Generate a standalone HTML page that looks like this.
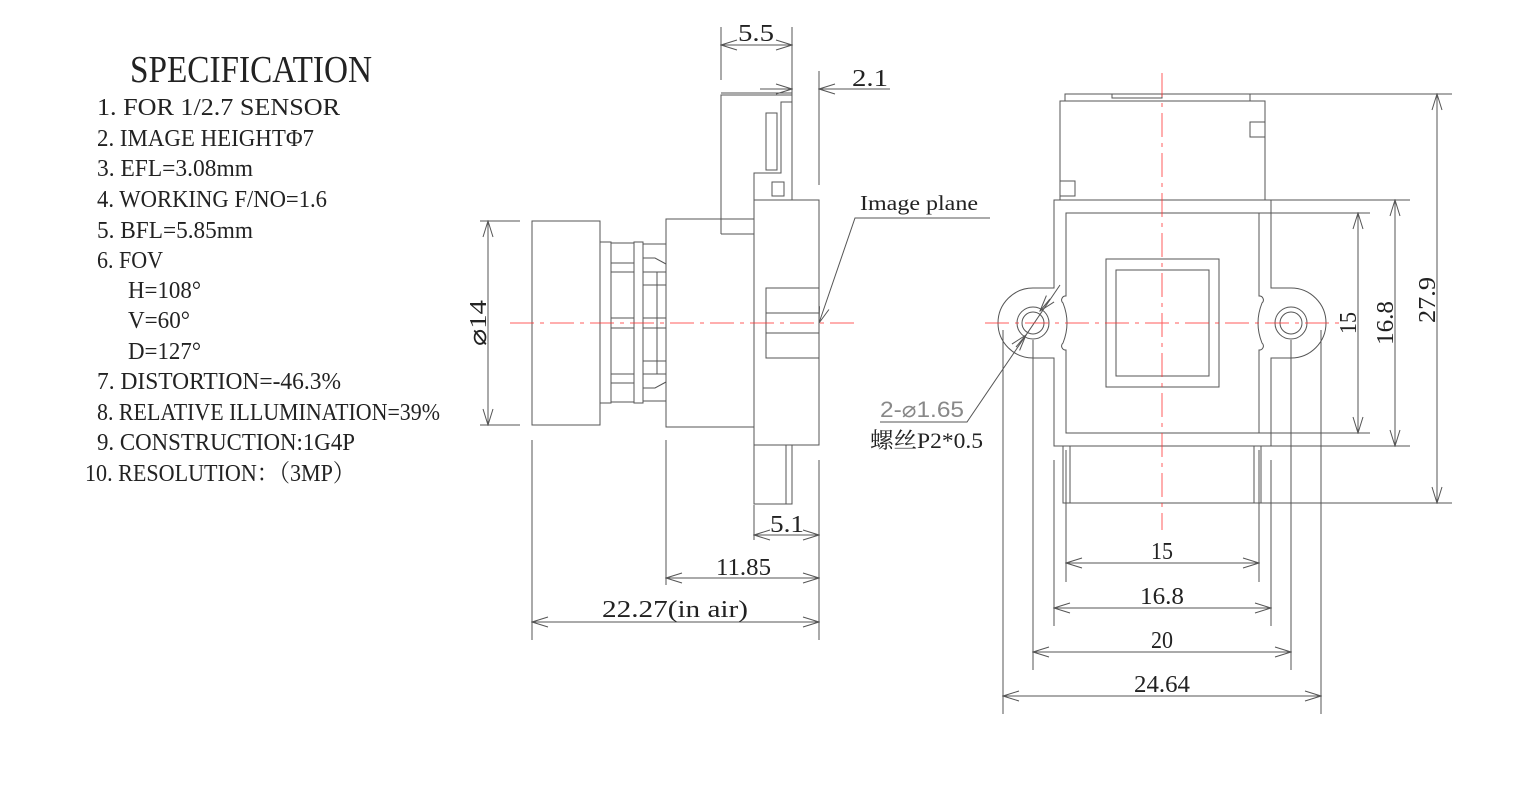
<!DOCTYPE html>
<html><head><meta charset="utf-8"><style>
html,body{margin:0;padding:0;background:#fff;width:1523px;height:803px;overflow:hidden}
svg{display:block}
text{font-family:"Liberation Serif","Noto Serif CJK SC",serif;fill:#222}
</style></head><body>
<svg width="1523" height="803" viewBox="0 0 1523 803" xmlns="http://www.w3.org/2000/svg">
<defs>
<marker id="a" markerWidth="18" markerHeight="12" refX="17" refY="6" orient="auto" markerUnits="userSpaceOnUse">
<path d="M1,1 L17,6 L1,11" fill="none" stroke="#555" stroke-width="1"/></marker>
<marker id="b" markerWidth="18" markerHeight="12" refX="1" refY="6" orient="auto" markerUnits="userSpaceOnUse">
<path d="M17,1 L1,6 L17,11" fill="none" stroke="#555" stroke-width="1"/></marker>
</defs>

<!-- spec text -->
<text x="130" y="82" font-size="38" textLength="242" lengthAdjust="spacingAndGlyphs">SPECIFICATION</text>
<g font-size="24">
<text x="97" y="115" textLength="243" lengthAdjust="spacingAndGlyphs">1. FOR 1/2.7  SENSOR</text>
<text x="97" y="146" textLength="217" lengthAdjust="spacingAndGlyphs">2. IMAGE HEIGHTΦ7</text>
<text x="97" y="176" textLength="156" lengthAdjust="spacingAndGlyphs">3. EFL=3.08mm</text>
<text x="97" y="207" textLength="230" lengthAdjust="spacingAndGlyphs">4. WORKING F/NO=1.6</text>
<text x="97" y="238" textLength="156" lengthAdjust="spacingAndGlyphs">5. BFL=5.85mm</text>
<text x="97" y="268" textLength="66" lengthAdjust="spacingAndGlyphs">6. FOV</text>
<text x="128" y="298" textLength="73" lengthAdjust="spacingAndGlyphs">H=108°</text>
<text x="128" y="328" textLength="62" lengthAdjust="spacingAndGlyphs">V=60°</text>
<text x="128" y="359" textLength="73" lengthAdjust="spacingAndGlyphs">D=127°</text>
<text x="97" y="389" textLength="244" lengthAdjust="spacingAndGlyphs">7. DISTORTION=-46.3%</text>
<text x="97" y="420" textLength="343" lengthAdjust="spacingAndGlyphs">8. RELATIVE ILLUMINATION=39%</text>
<text x="97" y="450" textLength="258" lengthAdjust="spacingAndGlyphs">9. CONSTRUCTION:1G4P</text>
<text x="85" y="481" textLength="270" lengthAdjust="spacingAndGlyphs">10. RESOLUTION：（3MP）</text>
</g>

<g fill="none" stroke="#555" stroke-width="1">
<!-- side view -->
<rect x="532" y="221" width="68" height="204"/>
<rect x="600" y="242" width="11" height="161"/>
<rect x="611" y="243" width="23" height="159"/>
<line x1="611" y1="263" x2="634" y2="263"/><line x1="611" y1="272" x2="634" y2="272"/>
<line x1="611" y1="374" x2="634" y2="374"/><line x1="611" y1="383" x2="634" y2="383"/>
<line x1="611" y1="318" x2="634" y2="318"/><line x1="611" y1="328" x2="634" y2="328"/>
<rect x="634" y="242" width="9" height="161"/>
<rect x="643" y="244" width="23" height="157"/>
<path d="M643,258 L655,258 L666,264 M643,272 L666,272 M643,285 L666,285 M643,318 L666,318 M643,328 L666,328 M643,361 L666,361 M643,374 L666,374 M643,388 L655,388 L666,382"/>
<line x1="657" y1="272" x2="657" y2="374"/>
<rect x="666" y="219" width="88" height="208"/>
<path d="M721,234 L721,95 L792,95 L792,200 M721,234 L754,234"/>
<path d="M754,200 L754,173 L781,173 L781,102 L792,102"/>
<rect x="766" y="113" width="11" height="57"/>
<rect x="772" y="182" width="12" height="14"/>
<rect x="754" y="200" width="65" height="245"/>
<rect x="766" y="288" width="53" height="70"/>
<line x1="766" y1="313" x2="819" y2="313"/><line x1="766" y1="333" x2="819" y2="333"/>
<rect x="754" y="445" width="38" height="59"/>
<line x1="786" y1="445" x2="786" y2="504"/>
<!-- side dims -->
<line x1="721" y1="27" x2="721" y2="80"/><line x1="792" y1="27" x2="792" y2="190"/>
<line x1="721" y1="45" x2="792" y2="45" marker-start="url(#b)" marker-end="url(#a)"/>
<line x1="760" y1="89" x2="792" y2="89" marker-end="url(#a)"/>
<line x1="890" y1="89" x2="819" y2="89" marker-end="url(#a)"/>
<line x1="819" y1="71" x2="819" y2="185"/>
<line x1="721" y1="93" x2="792" y2="93"/>
<line x1="480" y1="221" x2="520" y2="221"/><line x1="480" y1="425" x2="520" y2="425"/>
<line x1="488" y1="221" x2="488" y2="425" marker-start="url(#b)" marker-end="url(#a)"/>
<line x1="532" y1="440" x2="532" y2="640"/><line x1="666" y1="440" x2="666" y2="585"/>
<line x1="754" y1="505" x2="754" y2="540"/><line x1="819" y1="460" x2="819" y2="640"/>
<line x1="754" y1="535" x2="819" y2="535" marker-start="url(#b)" marker-end="url(#a)"/>
<line x1="666" y1="578" x2="819" y2="578" marker-start="url(#b)" marker-end="url(#a)"/>
<line x1="532" y1="622" x2="819" y2="622" marker-start="url(#b)" marker-end="url(#a)"/>
<path d="M990,218 L855,218 L819,323" marker-end="url(#a)"/>

<!-- front view -->
<rect x="1065" y="94" width="185" height="7"/>
<rect x="1112" y="94" width="50" height="4"/>
<rect x="1060" y="101" width="205" height="99"/>
<rect x="1250" y="122" width="15" height="15"/>
<rect x="1060" y="181" width="15" height="15"/>
<path d="M1054,200 L1271,200 L1271,288 L1291,288 A35,35 0 0 1 1291,358 L1271,358 L1271,446 L1054,446 L1054,358 L1033,358 A35,35 0 0 1 1033,288 L1054,288 Z"/>
<path d="M1066,213 L1259,213 L1259,296 A4,4 0 0 1 1262,303 Q1254,323 1262,343 A4,4 0 0 1 1259,350 L1259,433 L1066,433 L1066,350 A4,4 0 0 1 1063,343 Q1071,323 1063,303 A4,4 0 0 1 1066,296 Z"/>
<rect x="1106" y="259" width="113" height="128"/>
<rect x="1116" y="270" width="93" height="106"/>
<circle cx="1033" cy="323" r="16"/><circle cx="1033" cy="323" r="11"/>
<circle cx="1291" cy="323" r="16"/><circle cx="1291" cy="323" r="11"/>
<rect x="1063" y="446" width="198" height="57"/>
<line x1="1070" y1="446" x2="1070" y2="503"/><line x1="1254" y1="446" x2="1254" y2="503"/>
<!-- front dims -->
<line x1="1250" y1="94" x2="1452" y2="94"/><line x1="1261" y1="503" x2="1452" y2="503"/>
<line x1="1437" y1="94" x2="1437" y2="503" marker-start="url(#b)" marker-end="url(#a)"/>
<line x1="1271" y1="200" x2="1410" y2="200"/><line x1="1271" y1="446" x2="1410" y2="446"/>
<line x1="1395" y1="200" x2="1395" y2="446" marker-start="url(#b)" marker-end="url(#a)"/>
<line x1="1259" y1="213" x2="1370" y2="213"/><line x1="1259" y1="433" x2="1370" y2="433"/>
<line x1="1358" y1="213" x2="1358" y2="433" marker-start="url(#b)" marker-end="url(#a)"/>
<line x1="1066" y1="450" x2="1066" y2="582"/><line x1="1259" y1="450" x2="1259" y2="582"/>
<line x1="1054" y1="460" x2="1054" y2="626"/><line x1="1271" y1="460" x2="1271" y2="626"/>
<line x1="1033" y1="340" x2="1033" y2="670"/><line x1="1291" y1="340" x2="1291" y2="670"/>
<line x1="1003" y1="330" x2="1003" y2="714"/><line x1="1321" y1="330" x2="1321" y2="714"/>
<line x1="1066" y1="563" x2="1259" y2="563" marker-start="url(#b)" marker-end="url(#a)"/>
<line x1="1054" y1="608" x2="1271" y2="608" marker-start="url(#b)" marker-end="url(#a)"/>
<line x1="1033" y1="652" x2="1291" y2="652" marker-start="url(#b)" marker-end="url(#a)"/>
<line x1="1003" y1="696" x2="1321" y2="696" marker-start="url(#b)" marker-end="url(#a)"/>
<path d="M880,422 L967,422 L1060,285"/>
<line x1="1016" y1="347" x2="1026" y2="335" marker-end="url(#a)"/>
<line x1="1050" y1="299" x2="1040" y2="311" marker-end="url(#a)"/>
</g>

<!-- centre lines -->
<g stroke="#f33" stroke-width="1" stroke-dasharray="24,6,4,6" fill="none" opacity="0.8">
<line x1="510" y1="323" x2="856" y2="323"/>
<line x1="985" y1="323" x2="1340" y2="323"/>
<line x1="1162" y1="73" x2="1162" y2="530"/>
</g>

<g font-size="24">
<text x="738" y="41" textLength="36" lengthAdjust="spacingAndGlyphs">5.5</text>
<text x="852" y="86" textLength="36" lengthAdjust="spacingAndGlyphs">2.1</text>
<text x="860" y="210" font-size="21" textLength="118" lengthAdjust="spacingAndGlyphs">Image plane</text>
<text transform="translate(486,323) rotate(-90)" text-anchor="middle" textLength="46" lengthAdjust="spacingAndGlyphs">⌀14</text>
<text x="770" y="532" textLength="34" lengthAdjust="spacingAndGlyphs">5.1</text>
<text x="716" y="575" textLength="55" lengthAdjust="spacingAndGlyphs">11.85</text>
<text x="602" y="617" textLength="146" lengthAdjust="spacingAndGlyphs">22.27(in air)</text>
<text transform="translate(1435,300) rotate(-90)" text-anchor="middle" textLength="46" lengthAdjust="spacingAndGlyphs">27.9</text>
<text transform="translate(1393,323) rotate(-90)" text-anchor="middle" textLength="44" lengthAdjust="spacingAndGlyphs">16.8</text>
<text transform="translate(1356,323) rotate(-90)" text-anchor="middle" textLength="22" lengthAdjust="spacingAndGlyphs">15</text>
<text x="1151" y="559" textLength="22" lengthAdjust="spacingAndGlyphs">15</text>
<text x="1140" y="604" textLength="44" lengthAdjust="spacingAndGlyphs">16.8</text>
<text x="1151" y="648" textLength="22" lengthAdjust="spacingAndGlyphs">20</text>
<text x="1134" y="692" textLength="56" lengthAdjust="spacingAndGlyphs">24.64</text>
<text x="880" y="417" style="font-family:'Liberation Sans',sans-serif;fill:#888" font-size="22" textLength="84" lengthAdjust="spacingAndGlyphs">2-⌀1.65</text>
<text x="870" y="448" font-size="22" textLength="113" lengthAdjust="spacingAndGlyphs">螺丝P2*0.5</text>
</g>
</svg>
</body></html>
